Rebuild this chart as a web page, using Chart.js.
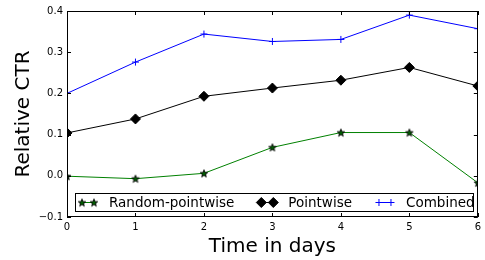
<!DOCTYPE html>
<html>
<head>
<meta charset="utf-8">
<script src="https://cdn.jsdelivr.net/npm/chart.js@4/dist/chart.umd.min.js"></script>
<style>
  html, body { margin: 0; padding: 0; background: #fff; }
  #wrap { width: 485px; height: 260px; }
</style>
</head>
<body>
<div id="wrap"><canvas id="chart"></canvas></div>
<script>
// data
const days = [0, 1, 2, 3, 4, 5, 6];
const randomPointwise = [-0.001, -0.007, 0.006, 0.069, 0.105, 0.105, -0.017];
const pointwise = [0.104, 0.138, 0.193, 0.213, 0.232, 0.263, 0.218];
const combined = [0.200, 0.276, 0.344, 0.326, 0.331, 0.390, 0.357];
const seriesNames = ['Random-pointwise', 'Pointwise', 'Combined'];
const xTicks = [0, 1, 2, 3, 4, 5, 6];
const yTicks = [-0.1, 0.0, 0.1, 0.2, 0.3, 0.4];
const yTickLabels = ['\u22120.1', '0.0', '0.1', '0.2', '0.3', '0.4'];

const FONT = 'DejaVu Sans';

// filled 5-point star like matplotlib '*'
function makeStar() {
    const c = document.createElement('canvas');
    c.width = 10; c.height = 10;
    const g = c.getContext('2d');
    g.beginPath();
    for (let i = 0; i < 10; i++) {
        const r = i % 2 === 0 ? 3.9 : 1.6;
        const a = -Math.PI / 2 + i * Math.PI / 5;
        const px = 5 + r * Math.cos(a), py = 5.4 + r * Math.sin(a);
        i === 0 ? g.moveTo(px, py) : g.lineTo(px, py);
    }
    g.closePath();
    g.fillStyle = '#006000';
    g.fill();
    g.strokeStyle = '#000';
    g.lineWidth = 0.9;
    g.stroke();
    return c;
}
const starImg = makeStar();

const toPts = arr => days.map((d, i) => ({ x: d, y: arr[i] }));

// inward ticks on all four sides + frame
const frameTicks = {
    id: 'frameTicks',
    afterDatasetsDraw(chart) {
        const { ctx, chartArea: a, scales } = chart;
        ctx.save();
        ctx.strokeStyle = '#000';
        ctx.lineWidth = 1;
        ctx.beginPath();
        xTicks.forEach(v => {
            const px = Math.round(scales.x.getPixelForValue(v)) + 0.5;
            ctx.moveTo(px, a.bottom); ctx.lineTo(px, a.bottom - 4);
            ctx.moveTo(px, a.top); ctx.lineTo(px, a.top + 4);
        });
        yTicks.forEach(v => {
            const py = Math.round(scales.y.getPixelForValue(v)) + 0.5;
            ctx.moveTo(a.left, py); ctx.lineTo(a.left + 4, py);
            ctx.moveTo(a.right, py); ctx.lineTo(a.right - 4, py);
        });
        ctx.stroke();
        ctx.strokeRect(Math.round(a.left) + 0.5, Math.round(a.top) + 0.5,
            Math.round(a.right - a.left) - 1, Math.round(a.bottom - a.top) - 1);
        ctx.restore();
    }
};

// boxed legend inside the lower part of the axes
const boxLegend = {
    id: 'boxLegend',
    afterDraw(chart) {
        const { ctx, chartArea: a } = chart;
        const x0 = a.left + 8, y0 = a.bottom - 24, w = 398, h = 18;
        const cy = y0 + h / 2 + 0.5;
        ctx.save();
        ctx.fillStyle = '#fff';
        ctx.fillRect(x0, y0, w, h);
        ctx.strokeStyle = '#000';
        ctx.lineWidth = 1;
        ctx.strokeRect(x0 + 0.5, y0 + 0.5, w, h);
        ctx.font = '13.5px "' + FONT + '"';
        ctx.textBaseline = 'middle';
        let xs = x0 + 5;
        chart.data.datasets.forEach(ds => {
            ctx.strokeStyle = ds.borderColor;
            ctx.lineWidth = 1;
            ctx.beginPath();
            ctx.moveTo(xs, cy); ctx.lineTo(xs + 16, cy);
            ctx.stroke();
            [xs + 2, xs + 14].forEach(mx => {
                ctx.fillStyle = ds.pointBackgroundColor;
                ctx.strokeStyle = ds.pointBorderColor;
                ctx.lineWidth = ds.pointBorderWidth;
                Chart.helpers.drawPoint(ctx, {
                    pointStyle: ds.pointStyle,
                    radius: ds.pointRadius,
                    rotation: 0,
                    borderWidth: ds.pointBorderWidth
                }, mx, cy);
            });
            ctx.fillStyle = '#000';
            ctx.fillText(ds.label, xs + 29, cy + 0.5);
            xs += 29 + ctx.measureText(ds.label).width + 25;
        });
        ctx.restore();
    }
};

new Chart(document.getElementById('chart'), {
    type: 'line',
    data: {
        datasets: [
            {
                label: seriesNames[0],
                data: toPts(randomPointwise),
                borderColor: '#008000',
                borderWidth: 1,
                pointStyle: starImg,
                pointRadius: 4,
                pointBackgroundColor: '#008000',
                pointBorderColor: '#000',
                pointBorderWidth: 0.8,
                clip: 0
            },
            {
                label: seriesNames[1],
                data: toPts(pointwise),
                borderColor: '#000',
                borderWidth: 1,
                pointStyle: 'rectRot',
                pointRadius: 5,
                pointBackgroundColor: '#000',
                pointBorderColor: '#000',
                pointBorderWidth: 1,
                clip: 0
            },
            {
                label: seriesNames[2],
                data: toPts(combined),
                borderColor: '#0000ff',
                borderWidth: 1,
                pointStyle: 'cross',
                pointRadius: 3.5,
                pointBackgroundColor: '#0000ff',
                pointBorderColor: '#0000ff',
                pointBorderWidth: 1,
                clip: 0
            }
        ]
    },
    options: {
        responsive: true,
        maintainAspectRatio: false,
        animation: false,
        layout: { padding: { top: 11, right: 5, left: 0, bottom: 0 } },
        plugins: { legend: { display: false }, tooltip: { enabled: false } },
        elements: { line: { tension: 0 } },
        scales: {
            x: {
                type: 'linear',
                min: 0,
                max: 6,
                afterBuildTicks: s => { s.ticks = xTicks.map(v => ({ value: v })); },
                afterFit: s => { s.height = 43; },
                grid: { display: false, drawTicks: false },
                border: { display: false },
                ticks: { padding: 4, color: '#000', font: { family: FONT, size: 10 } },
                title: {
                    display: true,
                    text: 'Time in days',
                    color: '#000',
                    font: { family: FONT, size: 20 },
                    padding: { top: 0, bottom: 1 }
                }
            },
            y: {
                min: -0.1,
                max: 0.4,
                afterBuildTicks: s => { s.ticks = yTicks.map(v => ({ value: v })); },
                afterFit: s => { s.width = 67; },
                grid: { display: false, drawTicks: false },
                border: { display: false },
                ticks: {
                    padding: 4,
                    color: '#000',
                    font: { family: FONT, size: 10 },
                    callback: (v, i) => yTickLabels[i]
                },
                title: {
                    display: true,
                    text: 'Relative CTR',
                    color: '#000',
                    font: { family: FONT, size: 20 },
                    padding: { top: 12, bottom: 0 }
                }
            }
        }
    },
    plugins: [frameTicks, boxLegend]
});
</script>
</body>
</html>
